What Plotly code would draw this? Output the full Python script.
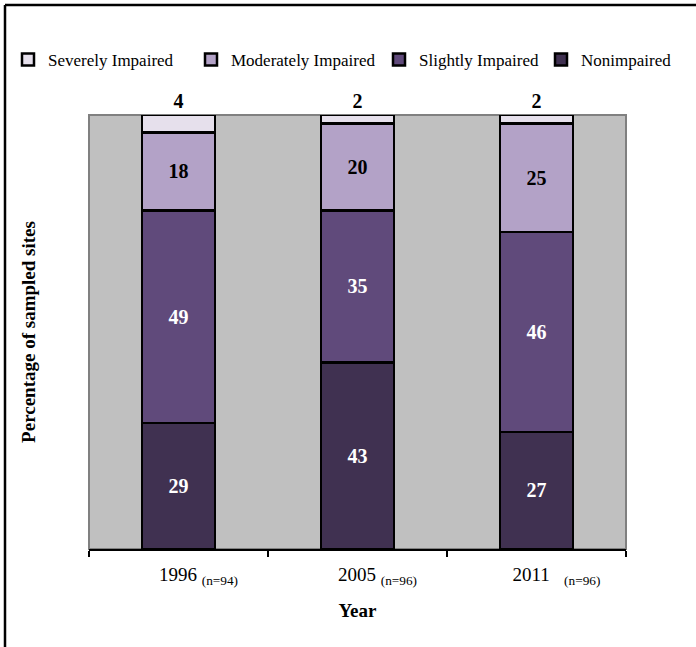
import plotly.graph_objects as go

years = ["1996", "2005", "2011"]
tick_labels = ["1996 <sub>(n=94)</sub>", "2005 <sub>(n=96)</sub>", "2011&nbsp;&nbsp;&nbsp;<sub>(n=96)</sub>"]
nonimpaired = [29, 43, 27]
slightly = [49, 35, 46]
moderately = [18, 20, 25]
severely = [4, 2, 2]

# name, values, fill, label colour, text position, legend id, legend text start (px)
series = [
    ("Nonimpaired", nonimpaired, "#403151", "white", "inside", "legend4", 581),
    ("Slightly Impaired", slightly, "#604A7B", "white", "inside", "legend3", 419),
    ("Moderately Impaired", moderately, "#B3A2C7", "black", "inside", "legend2", 231),
    ("Severely Impaired", severely, "#E6E0EC", "black", "outside", "legend", 48),
]

FONT = "Liberation Serif"
W, H = 696, 647
L, R, T, B = 89, 70, 115, 98
PW, PH = W - L - R, H - T - B
LEG_Y = 60

fig = go.Figure()
legends = {}
for name, vals, color, tcolor, pos, leg, tx in series:
    fig.add_trace(go.Bar(
        x=years, y=vals, name=name, legend=leg,
        marker=dict(color=color, line=dict(color="black", width=2.5)),
        text=["<b>%d</b>" % v for v in vals], textposition=pos,
        insidetextanchor="middle", textangle=0,
        textfont=dict(family=FONT, size=20, color=tcolor),
        outsidetextfont=dict(family=FONT, size=20, color="black"),
        cliponaxis=False,
    ))
    legends[leg] = dict(
        orientation="h", xref="container", yref="container",
        x=(tx - 40) / W, xanchor="left", y=1 - LEG_Y / H, yanchor="middle",
        font=dict(size=17, family=FONT), bgcolor="rgba(0,0,0,0)",
        itemwidth=30,
    )

fig.update_layout(
    width=W, height=H,
    margin=dict(l=L, r=R, t=T, b=B, autoexpand=False),
    barmode="stack", bargap=0.59,
    plot_bgcolor="#C0C0C0", paper_bgcolor="white",
    font=dict(family=FONT, color="black"),
    showlegend=True,
    **legends,
    xaxis=dict(
        tickmode="array", tickvals=years, ticktext=tick_labels,
        tickfont=dict(size=19, family=FONT),
        showline=True, linecolor="black", linewidth=2,
        ticks="outside", tickson="boundaries", ticklen=6, tickwidth=2, tickcolor="black",
        ticklabelshift=20, ticklabelstandoff=7,
        title=dict(text="<b>Year</b>", font=dict(size=19, family=FONT), standoff=17),
    ),
    yaxis=dict(
        range=[0, 100], showticklabels=False, showgrid=False, zeroline=False,
        title=dict(text="<b>Percentage of sampled sites</b>", font=dict(size=19, family=FONT), standoff=47),
    ),
    shapes=[
        dict(type="rect", xref="paper", yref="paper", x0=0, x1=1, y0=0, y1=1,
             line=dict(color="#808080", width=2), layer="below"),
        dict(type="line", xref="paper", yref="paper",
             x0=(5 - L) / PW, x1=(W - L) / PW, y0=(H - B - 5) / PH, y1=(H - B - 5) / PH,
             line=dict(color="black", width=2.5)),
        dict(type="line", xref="paper", yref="paper",
             x0=(5 - L) / PW, x1=(5 - L) / PW, y0=(H - B - 5) / PH, y1=-B / PH,
             line=dict(color="black", width=2.5)),
    ],
)

fig.write_html("out.html", config={"displayModeBar": False},
               post_script="document.body.style.margin='0';")
